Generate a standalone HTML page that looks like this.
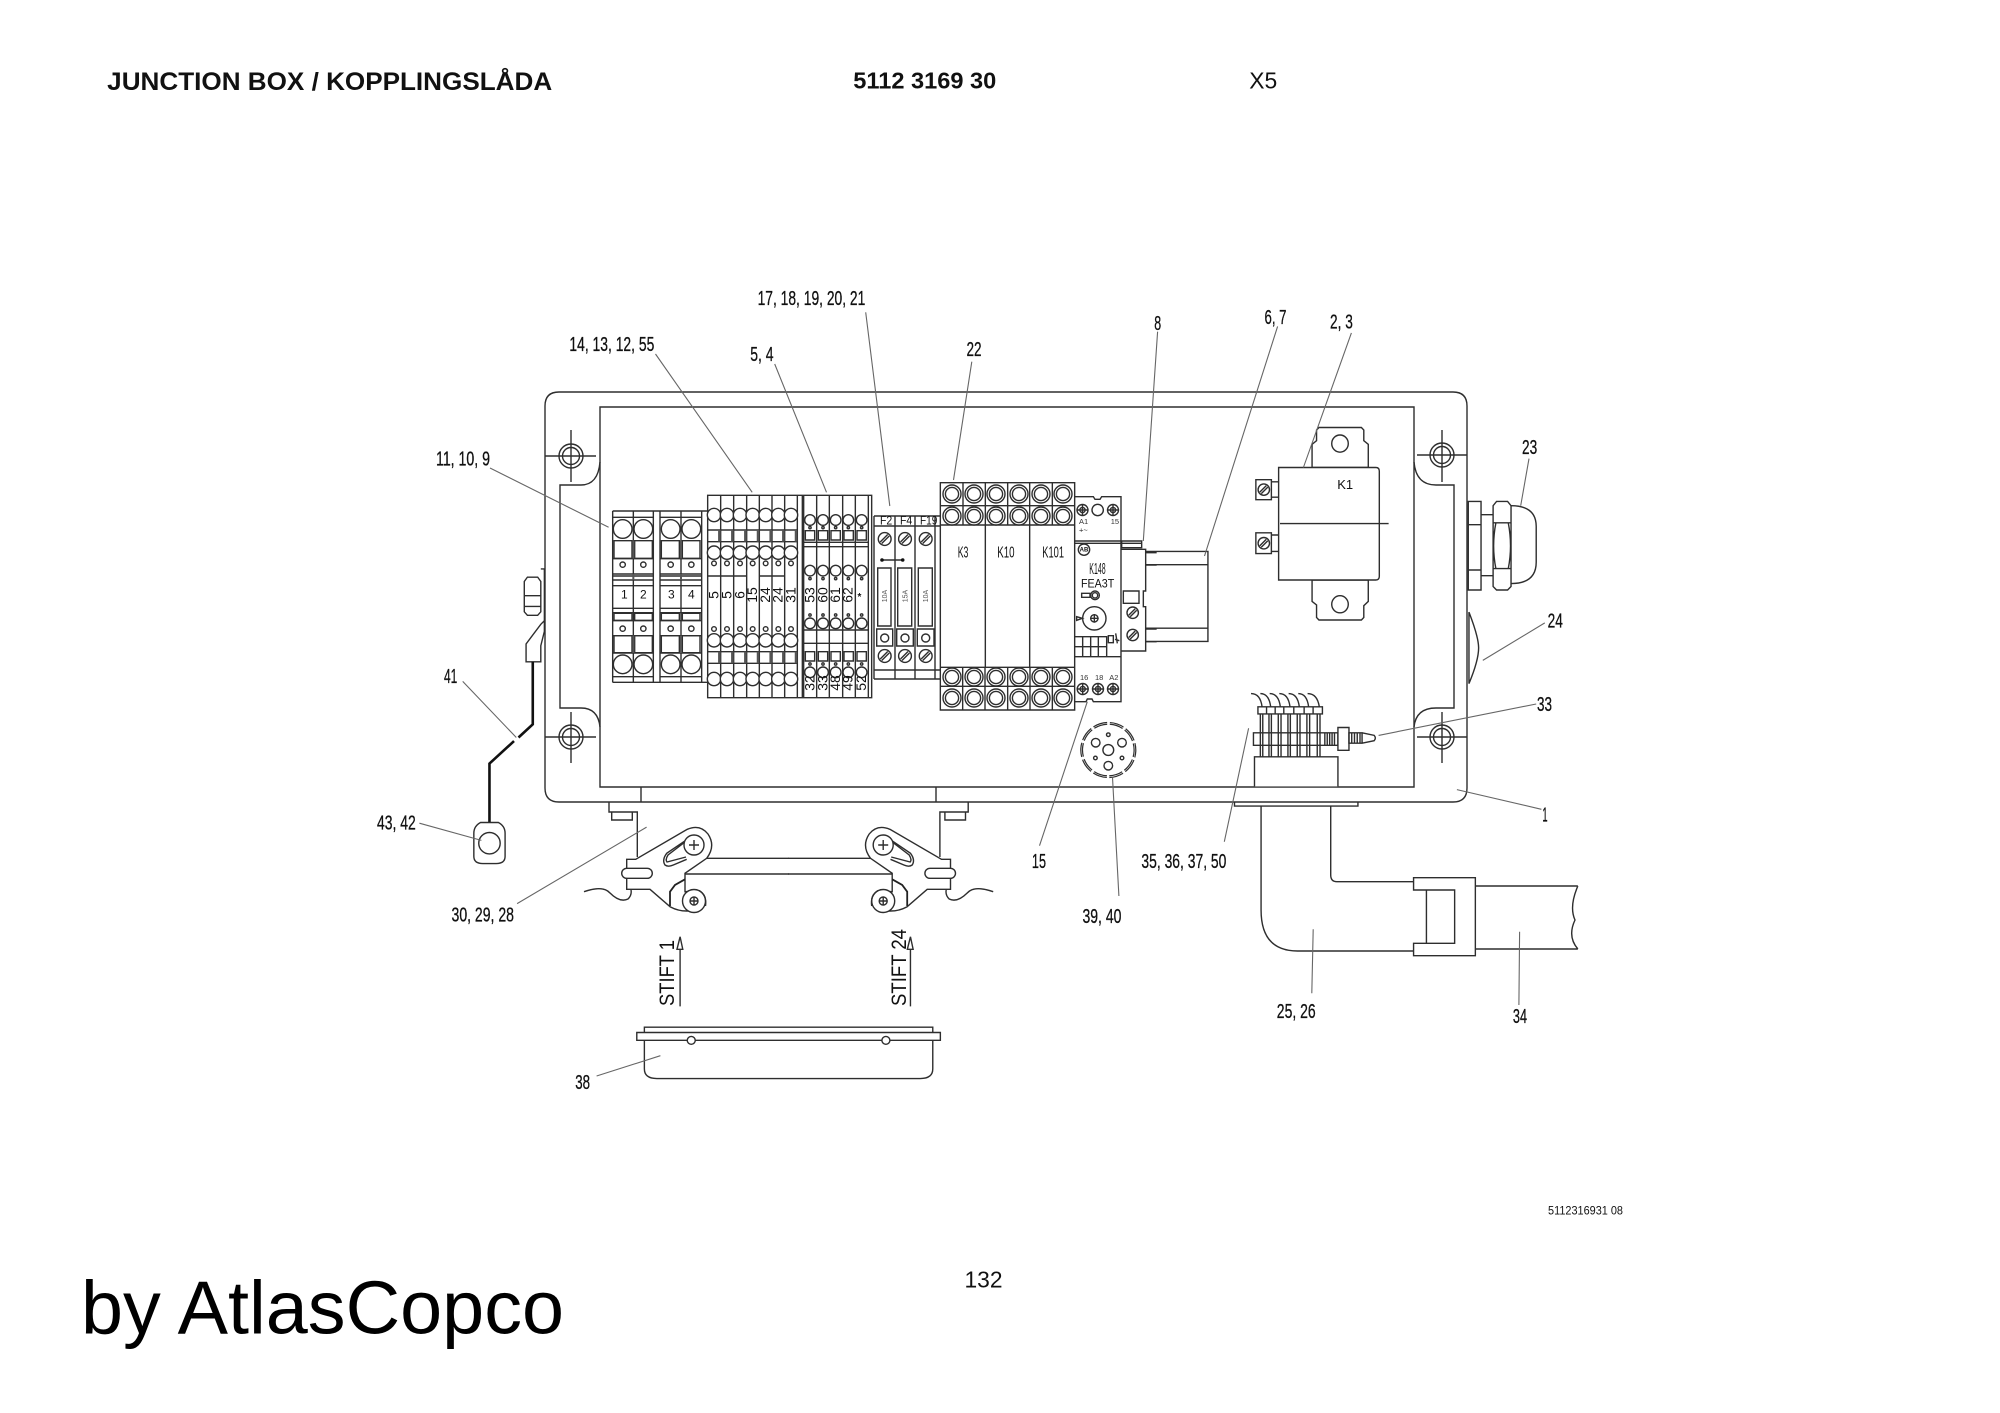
<!DOCTYPE html>
<html><head><meta charset="utf-8"><title>Junction box</title>
<style>
html,body{margin:0;padding:0;background:#fff}
svg{display:block}
svg *{vector-effect:non-scaling-stroke}
.l{fill:none;stroke:#2e2e2e;stroke-width:1.4}
.w{fill:#fff;stroke:#2e2e2e;stroke-width:1.4}
.ld{fill:none;stroke:#666;stroke-width:1.1}
text{font-family:"Liberation Sans",sans-serif;fill:#111;stroke:none}
.n{font-size:20.5px}
.n text{stroke:#111;stroke-width:.3}
</style></head><body>
<svg xmlns="http://www.w3.org/2000/svg" width="2000" height="1413" viewBox="0 0 2000 1413">
<rect width="2000" height="1413" fill="#fff"/>
<defs>
<g id="hs"><circle r="5.7" class="w"/><path class="l" d="M-4 2.5L2.5-4M-2.5 4L4-2.5"/></g>
<g id="hf"><circle r="6.4" class="w"/><path class="l" d="M-4.5 3L3-4.5M-3 4.5L4.500-3"/></g>
<g id="ps"><circle r="5.5" class="w"/><circle r="2.6" class="l"/><path class="l" d="M-5.500 0H5.500M0-5.500V5.500"/></g>
<g id="ring"><circle r="9" class="w"/><circle r="6.600" class="l"/></g>
<g id="screw"><circle r="12" class="l"/><circle r="8.500" class="l"/></g>
<g id="lev">
<path class="l" d="M609 802V812H637.300V857M611.700 812V820H632.300V812"/>
<path class="w" d="M626.700 859.300H635.700L687.300 829.300Q700 824 708 834Q716 846 706.700 858.300L685 873.300V891.700L694 891V911H686.700Q678 911 670 906.700L650 889.300H626.700Z"/>
<path class="l" d="M687.300 839.300L666.700 853.300Q661.700 860 665 865Q668.300 867.300 673.300 865L686.700 859.300M685 842L668 855Q665 860 667 862L686 857"/>
<circle class="w" cx="694" cy="845" r="10"/>
<path class="l" d="M689 845H699M694 840V850M706.700 858.300H789M685 874H789"/>
<rect class="w" x="621.700" y="868.300" width="30.600" height="10" rx="5" ry="5"/>
<path class="l" d="M584 891.700Q603 885 610 893Q620 903 628 899Q632 895 631 890"/>
<path fill="none" stroke="#222" stroke-width="1.800" d="M685 879.300L675 885L670 891.700V906"/>
<circle class="w" cx="694" cy="901" r="11.500"/>
<path class="l" d="M699 890.500Q707 895 705.500 906"/>
<circle class="l" cx="694" cy="901" r="4"/>
<path class="l" d="M690 901H698M694 897V905"/>
</g>
</defs>

<!-- Enclosure -->
<path class="l" d="M559 392H1453Q1467 392 1467 406V788Q1467 802 1453 802H559Q545 802 545 788V406Q545 392 559 392Z"/>
<path class="l" d="M600 407H1414V787H600Z"/>
<path class="l" d="M600 462Q598 485 581 485H560V708H581Q598 708 600 727"/>
<path class="l" d="M1414 462Q1416 485 1436 485H1454V708H1436Q1416 708 1414 727"/>
<path class="l" d="M641 787V802M936 787V802"/>
<use href="#screw" x="571" y="456"/><use href="#screw" x="571" y="737"/>
<use href="#screw" x="1442" y="455"/><use href="#screw" x="1442" y="737"/>
<path class="l" d="M545 456H596M571 430V482M545 737H596M571 712V763M1417 455H1467M1442 430V482M1417 737H1467M1442 712V763"/>

<!-- Terminal group 1 + 2 + 3 -->
<g transform="translate(600,480) scale(.33333)">
<path class="l" d="M38 93H323M38 607H323M38 93V607M38 112H160M180 112H305M38 590H160M180 590H305M100 93V607M160 93V607M180 93V607M243 93V607M305 93V607M38 236H160M180 236H305M38 282H160M180 282H305M38 288H160M180 288H305M38 300H160M180 300H305M38 317H160M180 317H305M38 385H160M180 385H305M38 398H160M180 398H305M38 422H160M180 422H305M38 467H160M180 467H305M38 519H160M180 519H305"/>
<path class="l" d="M42 182H96V235H42ZM104 182H157V235H104ZM184 182H238V235H184ZM247 182H300V235H247ZM42 467H96V518H42ZM104 467H157V518H104ZM184 467H238V518H184ZM247 467H300V518H247ZM42 400H96V421H42ZM104 400H157V421H104ZM184 400H238V421H184ZM247 400H300V421H247Z"/>
<path fill="#555" d="M97 182h6v53h-6zM240 182h6v53h-6zM97 467h6v52h-6zM240 467h6v52h-6zM97 282h6v18h-6zM240 282h6v18h-6z"/>
<g class="w">
<circle cx="68" cy="147" r="28"/><circle cx="130" cy="147" r="28"/><circle cx="212" cy="147" r="28"/><circle cx="274" cy="147" r="28"/>
<circle cx="68" cy="553" r="28"/><circle cx="130" cy="553" r="28"/><circle cx="212" cy="553" r="28"/><circle cx="274" cy="553" r="28"/>
<circle cx="68" cy="254" r="8"/><circle cx="130" cy="254" r="8"/><circle cx="212" cy="254" r="8"/><circle cx="274" cy="254" r="8"/>
<circle cx="68" cy="446" r="8"/><circle cx="130" cy="446" r="8"/><circle cx="212" cy="446" r="8"/><circle cx="274" cy="446" r="8"/>
</g>
<path class="l" d="M323 46H815V653H323ZM362 46V653M401 46V653M440 46V653M478 46V653M516 46V653M554 46V653M592 46V653M607 46V653M611 46V653M650 46V653M688 46V653M728 46V653M766 46V653M805 46V653"/>
<path class="l" d="M323 150H592M323 185H592M323 515H592M323 550H592M323 288H440M478 288H554M611 187H805M611 200H805M611 450H805M611 490H805"/>
<path stroke="#555" stroke-width="2.500" fill="none" d="M358 150V185M397 150V185M436 150V185M474 150V185M512 150V185M550 150V185M588 150V185M358 515V550M397 515V550M436 515V550M474 515V550M512 515V550M550 515V550M588 515V550"/>
<path class="l" d="M616 152h28v28h-28zM655 152h28v28h-28zM693 152h28v28h-28zM732 152h28v28h-28zM771 152h28v28h-28zM616 515h28v28h-28zM655 515h28v28h-28zM693 515h28v28h-28zM732 515h28v28h-28zM771 515h28v28h-28z"/>
<g class="w">
<circle cx="342" cy="105" r="20"/><circle cx="381" cy="105" r="20"/><circle cx="420" cy="105" r="20"/><circle cx="458" cy="105" r="20"/><circle cx="497" cy="105" r="20"/><circle cx="535" cy="105" r="20"/><circle cx="573" cy="105" r="20"/>
<circle cx="342" cy="218" r="20"/><circle cx="381" cy="218" r="20"/><circle cx="420" cy="218" r="20"/><circle cx="458" cy="218" r="20"/><circle cx="497" cy="218" r="20"/><circle cx="535" cy="218" r="20"/><circle cx="573" cy="218" r="20"/>
<circle cx="342" cy="481" r="20"/><circle cx="381" cy="481" r="20"/><circle cx="420" cy="481" r="20"/><circle cx="458" cy="481" r="20"/><circle cx="497" cy="481" r="20"/><circle cx="535" cy="481" r="20"/><circle cx="573" cy="481" r="20"/>
<circle cx="342" cy="597" r="20"/><circle cx="381" cy="597" r="20"/><circle cx="420" cy="597" r="20"/><circle cx="458" cy="597" r="20"/><circle cx="497" cy="597" r="20"/><circle cx="535" cy="597" r="20"/><circle cx="573" cy="597" r="20"/>
<circle cx="342" cy="250" r="7"/><circle cx="381" cy="250" r="7"/><circle cx="420" cy="250" r="7"/><circle cx="458" cy="250" r="7"/><circle cx="497" cy="250" r="7"/><circle cx="535" cy="250" r="7"/><circle cx="573" cy="250" r="7"/>
<circle cx="342" cy="447" r="7"/><circle cx="381" cy="447" r="7"/><circle cx="420" cy="447" r="7"/><circle cx="458" cy="447" r="7"/><circle cx="497" cy="447" r="7"/><circle cx="535" cy="447" r="7"/><circle cx="573" cy="447" r="7"/>
<circle cx="630" cy="120" r="16"/><circle cx="669" cy="120" r="16"/><circle cx="707" cy="120" r="16"/><circle cx="745" cy="120" r="16"/><circle cx="785" cy="120" r="16"/>
<circle cx="630" cy="272" r="16"/><circle cx="669" cy="272" r="16"/><circle cx="707" cy="272" r="16"/><circle cx="745" cy="272" r="16"/><circle cx="785" cy="272" r="16"/>
<circle cx="630" cy="430" r="16"/><circle cx="669" cy="430" r="16"/><circle cx="707" cy="430" r="16"/><circle cx="745" cy="430" r="16"/><circle cx="785" cy="430" r="16"/>
<circle cx="630" cy="577" r="16"/><circle cx="669" cy="577" r="16"/><circle cx="707" cy="577" r="16"/><circle cx="745" cy="577" r="16"/><circle cx="785" cy="577" r="16"/>
<circle cx="630" cy="143" r="3.500"/><circle cx="669" cy="143" r="3.500"/><circle cx="707" cy="143" r="3.500"/><circle cx="745" cy="143" r="3.500"/><circle cx="785" cy="143" r="3.500"/>
<circle cx="630" cy="296" r="3.500"/><circle cx="669" cy="296" r="3.500"/><circle cx="707" cy="296" r="3.500"/><circle cx="745" cy="296" r="3.500"/><circle cx="785" cy="296" r="3.500"/>
<circle cx="630" cy="405" r="3.500"/><circle cx="669" cy="405" r="3.500"/><circle cx="707" cy="405" r="3.500"/><circle cx="745" cy="405" r="3.500"/><circle cx="785" cy="405" r="3.500"/>
<circle cx="630" cy="552" r="3.500"/><circle cx="669" cy="552" r="3.500"/><circle cx="707" cy="552" r="3.500"/><circle cx="745" cy="552" r="3.500"/><circle cx="785" cy="552" r="3.500"/>
</g>
</g>
<g font-size="12"><text x="624.300" y="598.300" text-anchor="middle">1</text><text x="643.300" y="598.300" text-anchor="middle">2</text><text x="671.300" y="598.300" text-anchor="middle">3</text><text x="691.300" y="598.300" text-anchor="middle">4</text></g>
<g font-size="14" text-anchor="middle">
<text transform="translate(718.300,595) rotate(-90)">5</text><text transform="translate(731.300,595) rotate(-90)">5</text><text transform="translate(744.300,595) rotate(-90)">6</text><text transform="translate(757,595) rotate(-90)">15</text><text transform="translate(770,595) rotate(-90)">24</text><text transform="translate(782.700,595) rotate(-90)">24</text><text transform="translate(795.300,595) rotate(-90)">31</text>
<text transform="translate(814.300,595) rotate(-90)">53</text><text transform="translate(827.300,595) rotate(-90)">60</text><text transform="translate(840,595) rotate(-90)">61</text><text transform="translate(852.700,595) rotate(-90)">62</text>
<text transform="translate(814.300,683) rotate(-90)">32</text><text transform="translate(827.300,683) rotate(-90)">33</text><text transform="translate(840,683) rotate(-90)">48</text><text transform="translate(852.700,683) rotate(-90)">49</text><text transform="translate(866,683) rotate(-90)">52</text>
</g>
<text x="859.500" y="600" font-size="10" font-weight="bold" text-anchor="middle">*</text>

<!-- Fuses -->
<path class="l" d="M874 516H940M874 526H940M874 670H940M874 679H940M874 516V679M895 516V679M915 516V679M935 516V679"/>
<path class="l" d="M877.700 568H891V626H877.700ZM897.700 568H911.700V626H897.700ZM918.300 568H932.300V626H918.300ZM876.700 629H892.700V646H876.700ZM896.700 629H913.300V646H896.700ZM917.300 629H934V646H917.300Z"/>
<circle class="l" cx="884.700" cy="638" r="4"/><circle class="l" cx="905" cy="638" r="4"/><circle class="l" cx="925.700" cy="638" r="4"/>
<use href="#hf" x="884.700" y="539"/><use href="#hf" x="905" y="539"/><use href="#hf" x="925.700" y="539"/>
<use href="#hf" x="884.700" y="656"/><use href="#hf" x="905" y="656"/><use href="#hf" x="925.700" y="656"/>
<path class="l" d="M882 560H903"/><circle cx="882" cy="560" r="1.800" fill="#111"/><circle cx="902.700" cy="560" r="1.800" fill="#111"/>
<g font-size="12"><text x="880" y="524.700" textLength="12.300" lengthAdjust="spacingAndGlyphs">F2</text><text x="900" y="524.700" textLength="12.300" lengthAdjust="spacingAndGlyphs">F4</text><text x="920" y="524.700" textLength="17.300" lengthAdjust="spacingAndGlyphs">F19</text></g>
<g font-size="7" text-anchor="middle"><text transform="translate(887,596) rotate(-90)" style="fill:#555">10A</text><text transform="translate(907.500,596) rotate(-90)" style="fill:#555">15A</text><text transform="translate(928.200,596) rotate(-90)" style="fill:#555">10A</text></g>

<!-- Relays -->
<g transform="translate(880,480) scale(.33333)">
<path class="l" d="M181 8H584V690H181ZM181 77H584M181 135H584M181 562H584M181 619H584M249 8V135M316 8V562M383 8V135M449 8V562M517 8V135M248 562V690M315 562V690M383 562V690M450 562V690M517 562V690"/>
<path class="l" d="M584 50H640L645 58H660L665 50H723V665H640L636 657H622L618 665H584M584 183H723M584 190H723M584 530H723"/>
<path class="l" d="M584 470H680V530M584 500H680M608 470V530M632 470V530M655 470V530M685 467H700V488H685ZM707 460L712 490M705 478L718 482"/>
<circle class="l" cx="653" cy="90" r="17"/>
<circle class="l" cx="612" cy="209" r="17"/>
<path class="l" d="M605 340H630V352H605Z"/><circle class="w" cx="645" cy="346" r="13"/><circle class="l" cx="645" cy="346" r="8"/>
<circle class="l" cx="643" cy="415" r="35"/><circle class="l" cx="643" cy="415" r="11"/><path class="l" d="M630 415H656M643 402V428M590 410L607 415L590 421Z"/>
<path class="l" d="M725 183H785V203H725ZM725 190H785M723 208H797V333H790V380H797V513H723M730 333H777V370H730ZM797 218H830M797 255H830M797 447H830M797 485H830"/>
</g>
<use href="#ring" x="952" y="494"/><use href="#ring" x="974" y="494"/><use href="#ring" x="996" y="494"/><use href="#ring" x="1019" y="494"/><use href="#ring" x="1041" y="494"/><use href="#ring" x="1063" y="494"/>
<use href="#ring" x="952" y="516"/><use href="#ring" x="974" y="516"/><use href="#ring" x="996" y="516"/><use href="#ring" x="1019" y="516"/><use href="#ring" x="1041" y="516"/><use href="#ring" x="1063" y="516"/>
<use href="#ring" x="952" y="677"/><use href="#ring" x="974" y="677"/><use href="#ring" x="996" y="677"/><use href="#ring" x="1019" y="677"/><use href="#ring" x="1041" y="677"/><use href="#ring" x="1063" y="677"/>
<use href="#ring" x="952" y="698"/><use href="#ring" x="974" y="698"/><use href="#ring" x="996" y="698"/><use href="#ring" x="1019" y="698"/><use href="#ring" x="1041" y="698"/><use href="#ring" x="1063" y="698"/>
<use href="#ps" x="1082.500" y="510"/><use href="#ps" x="1113" y="510"/>
<use href="#ps" x="1082.700" y="689"/><use href="#ps" x="1098" y="689"/><use href="#ps" x="1113" y="689"/>
<use href="#hs" x="1132.700" y="612.700"/><use href="#hs" x="1132.700" y="635"/>
<g font-size="15.500">
<text x="957.700" y="557.300" textLength="10.700" lengthAdjust="spacingAndGlyphs">K3</text>
<text x="997.300" y="557.300" textLength="17.300" lengthAdjust="spacingAndGlyphs">K10</text>
<text x="1042.300" y="557.300" textLength="21.700" lengthAdjust="spacingAndGlyphs">K101</text>
<text x="1089.300" y="574" textLength="16.400" lengthAdjust="spacingAndGlyphs">K148</text>
</g>
<text x="1081" y="587.700" font-size="12.300" textLength="33.300" lengthAdjust="spacingAndGlyphs">FEA3T</text>
<g font-size="7.500"><text x="1079" y="524" style="fill:#333">A1</text><text x="1110.700" y="524" style="fill:#333">15</text><text x="1079" y="532.700" style="fill:#333">+~</text><text x="1080" y="680" style="fill:#333">16</text><text x="1095" y="680" style="fill:#333">18</text><text x="1109.300" y="680" style="fill:#333">A2</text></g>
<text x="1084" y="551.500" font-size="6" font-weight="bold" text-anchor="middle">AB</text>

<!-- Right side module, K1, gland, connector -->
<g transform="translate(1100,280) scale(.34483,.35714)">
<path class="l" d="M133 760H313V1012H133M133 797H313M133 975H313"/>
<path class="w" d="M615 525V460L628 450V420L635 413H758L765 420V450L778 460V525Z"/>
<path class="w" d="M615 840V900L628 910V945L635 952H758L765 945V912L778 900V840Z"/>
<path class="w" d="M518 525H800Q810 525 810 535V830Q810 840 800 840H518Z"/>
<path class="l" d="M522 682H837"/>
<ellipse class="l" cx="696" cy="458" rx="24" ry="24"/><ellipse class="l" cx="696" cy="908" rx="24" ry="24"/>
<path class="l" d="M452 559H497V615H452ZM497 565H518M497 608H518M452 708H497V766H452ZM497 714H518M497 760H518"/>
<path class="l" d="M1068 620H1105V868H1068ZM1068 685H1105M1068 812H1105M1105 657H1140M1105 828H1140"/>
<path class="w" d="M1150 620H1182L1192 632V858L1182 868H1150L1140 858V632ZM1140 680H1192M1140 808H1192M1148 680Q1135 745 1148 808M1184 680Q1197 745 1184 808"/>
<path class="l" d="M1192 632Q1265 632 1265 690V790Q1265 850 1192 850"/>
<path class="w" d="M1070 930Q1098 1000 1098 1030Q1098 1065 1070 1130Z"/>
<path class="l" d="M438 1158Q465 1158 470 1195M465 1158Q490 1158 495 1195M492 1158Q518 1158 523 1195M520 1158Q546 1158 551 1195M547 1158Q573 1158 578 1195M575 1158Q600 1158 605 1195M602 1158Q630 1158 636 1195"/>
<path class="l" d="M458 1195H645V1215H458ZM483 1195V1215M508 1195V1215M533 1195V1215M562 1195V1215M592 1195V1215M618 1195V1215"/>
<path class="l" d="M465 1215V1335M472 1215V1335M490 1215V1335M497 1215V1335M517 1215V1335M525 1215V1335M545 1215V1335M552 1215V1335M572 1215V1335M580 1215V1335M600 1215V1335M608 1215V1335M630 1215V1335M638 1215V1335"/>
<path class="l" d="M445 1268H690V1303H445ZM652 1268V1303M659 1268V1303M666 1268V1303M673 1268V1303M680 1268V1303"/>
<path class="w" d="M690 1253H722V1317H690Z"/>
<path class="l" d="M722 1268H760V1297H722ZM730 1268V1297M738 1268V1297M746 1268V1297M754 1268V1297M760 1268L795 1275Q802 1283 795 1290L760 1297"/>
<path class="w" d="M448 1418V1335H690V1418"/>
<path class="l" d="M390 1462V1473H748V1462"/>
</g>
<text x="1337.200" y="489" font-size="13">K1</text>
<use href="#hs" x="1263.800" y="489.600"/><use href="#hs" x="1263.800" y="543.200"/>

<!-- Star plug -->
<g transform="rotate(93 1108.300 750)">
<circle cx="1108.300" cy="750" r="27.500" fill="#fff" stroke="#2e2e2e" stroke-width="1.200" stroke-dasharray="14.500 2.780"/>
<circle cx="1108.300" cy="750" r="25.800" fill="none" stroke="#2e2e2e" stroke-width="1.200" stroke-dasharray="13.600 2.610"/>
</g>
<circle class="l" cx="1108.300" cy="750" r="5.400"/><circle class="l" cx="1095.700" cy="742.700" r="4.300"/><circle class="l" cx="1122" cy="742.700" r="4.300"/><circle class="l" cx="1108.300" cy="765.700" r="4.300"/><circle class="l" cx="1108.300" cy="734.700" r="1.800"/><circle class="l" cx="1095.400" cy="758" r="1.800"/><circle class="l" cx="1122" cy="758" r="1.800"/>

<!-- Pipe & clamp -->
<g transform="translate(1060,720) scale(.35714,.33333)">
<path class="l" d="M563 258V570Q563 693 665 693H990M758 258V465Q758 485 775 485H990"/>
<path class="l" d="M990 473H1163V707H990V670H1105V510H990ZM1026 510V670"/>
<path class="l" d="M1163 498H1450M1163 687H1450M1450 498Q1425 560 1442 600Q1420 650 1450 687"/>
</g>

<!-- Levers -->
<use href="#lev"/>
<use href="#lev" transform="translate(1577.200,0) scale(-1,1)"/>

<!-- Lower-left hardware -->
<g transform="translate(360,560) scale(.44643,.35714)">
<path class="l" d="M375 48H398L405 60V145L398 155H375L368 145V60ZM368 100H405M368 130H405M405 25H413V170L405 180L372 235V285H405V240L413 200V170"/>
<path fill="none" stroke="#111" stroke-width="2.600" d="M387 285V460L355 497M345 507L290 570V735"/>
<path class="w" d="M270 735H310Q325 745 325 765V830Q325 850 305 850H275Q255 850 255 830V765Q255 745 270 735Z"/>
<ellipse class="l" cx="290" cy="793" rx="24" ry="30"/>
<path class="l" d="M717 1250V1090M1233 1250V1090"/>
<path class="w" d="M717 1055L710 1090H723ZM1233 1055L1226 1090H1239Z"/>
<path class="l" d="M637 1308H1283V1323H637ZM620 1323H1300V1345H620Z"/>
<path class="l" d="M637 1345V1425Q637 1452 665 1452H1255Q1283 1452 1283 1425V1345"/>
<ellipse class="w" cx="742" cy="1345" rx="9" ry="11"/><ellipse class="w" cx="1178" cy="1345" rx="9" ry="11"/>
</g>
<text transform="translate(674,1006) rotate(-90)" font-size="21" textLength="66" lengthAdjust="spacingAndGlyphs">STIFT 1</text>
<text transform="translate(906,1006) rotate(-90)" font-size="21" textLength="77" lengthAdjust="spacingAndGlyphs">STIFT 24</text>

<!-- Leaders -->
<path class="ld" d="M865.700 312.300L889.800 506M655.500 354L752.200 492.300M774.700 364L826.500 492.300M971.800 361.700L953.500 480M1157.600 331.700L1143.300 541M1277.600 326.400L1204.500 556M1351.400 332.900L1303.400 467.500M1529 458.600L1520.700 505.700M1544.800 622.900L1482.800 660.400M1536.200 704L1378.600 735.400M1541.400 809.300L1456.900 789.600M490 468L608.600 527.300M462.700 681.400L516.300 737.500M419.400 823.200L481.400 840.400M517.100 903.600L646.600 827.100M596.600 1076L660.400 1055.700M1087.300 701.700L1039.500 845.700M1112.500 777.300L1118.900 896M1248.600 728.300L1224.300 841.700M1313.200 929.300L1311.800 993.300M1519.600 931.700L1518.900 1005"/>

<!-- Labels -->
<g class="n">
<text x="757.600" y="305" textLength="107.700" lengthAdjust="spacingAndGlyphs">17, 18, 19, 20, 21</text>
<text x="569.400" y="351" textLength="84.900" lengthAdjust="spacingAndGlyphs">14, 13, 12, 55</text>
<text x="750.200" y="361" textLength="23.300" lengthAdjust="spacingAndGlyphs">5, 4</text>
<text x="966.500" y="356" textLength="15.100" lengthAdjust="spacingAndGlyphs">22</text>
<text x="1154.300" y="330" textLength="6.900" lengthAdjust="spacingAndGlyphs">8</text>
<text x="1264.500" y="324" textLength="22" lengthAdjust="spacingAndGlyphs">6, 7</text>
<text x="1330" y="328.600" textLength="22.800" lengthAdjust="spacingAndGlyphs">2, 3</text>
<text x="1522" y="454" textLength="15.200" lengthAdjust="spacingAndGlyphs">23</text>
<text x="1547.600" y="627.500" textLength="15.200" lengthAdjust="spacingAndGlyphs">24</text>
<text x="1537" y="711" textLength="15" lengthAdjust="spacingAndGlyphs">33</text>
<text x="1542.400" y="821.400" textLength="5.200" lengthAdjust="spacingAndGlyphs">1</text>
<text x="436" y="465.600" textLength="54" lengthAdjust="spacingAndGlyphs">11, 10, 9</text>
<text x="444" y="683" textLength="13.300" lengthAdjust="spacingAndGlyphs">41</text>
<text x="377" y="829.600" textLength="38.800" lengthAdjust="spacingAndGlyphs">43, 42</text>
<text x="451.500" y="921.400" textLength="62.500" lengthAdjust="spacingAndGlyphs">30, 29, 28</text>
<text x="575.200" y="1089" textLength="14.800" lengthAdjust="spacingAndGlyphs">38</text>
<text x="1031.900" y="868" textLength="14.100" lengthAdjust="spacingAndGlyphs">15</text>
<text x="1082.500" y="923" textLength="38.900" lengthAdjust="spacingAndGlyphs">39, 40</text>
<text x="1141.400" y="868" textLength="85" lengthAdjust="spacingAndGlyphs">35, 36, 37, 50</text>
<text x="1276.800" y="1018" textLength="38.900" lengthAdjust="spacingAndGlyphs">25, 26</text>
<text x="1512.900" y="1023" textLength="14.100" lengthAdjust="spacingAndGlyphs">34</text>
</g>

<text x="107.200" y="90" font-size="24.700" font-weight="bold" textLength="445" lengthAdjust="spacingAndGlyphs">JUNCTION BOX / KOPPLINGSLÅDA</text>
<text x="853.300" y="88.300" font-size="23.500" font-weight="bold" textLength="143" lengthAdjust="spacingAndGlyphs">5112 3169 30</text>
<text x="1249.300" y="88.300" font-size="23.500" textLength="28" lengthAdjust="spacingAndGlyphs">X5</text>
<text x="1548" y="1214.700" font-size="11.600" textLength="75" lengthAdjust="spacingAndGlyphs">5112316931 08</text>
<text x="964.500" y="1287.300" font-size="23" textLength="38" lengthAdjust="spacingAndGlyphs">132</text>
<text x="81" y="1333.500" font-size="75" textLength="483" lengthAdjust="spacingAndGlyphs" style="fill:#000">by AtlasCopco</text>
</svg>
</body></html>
